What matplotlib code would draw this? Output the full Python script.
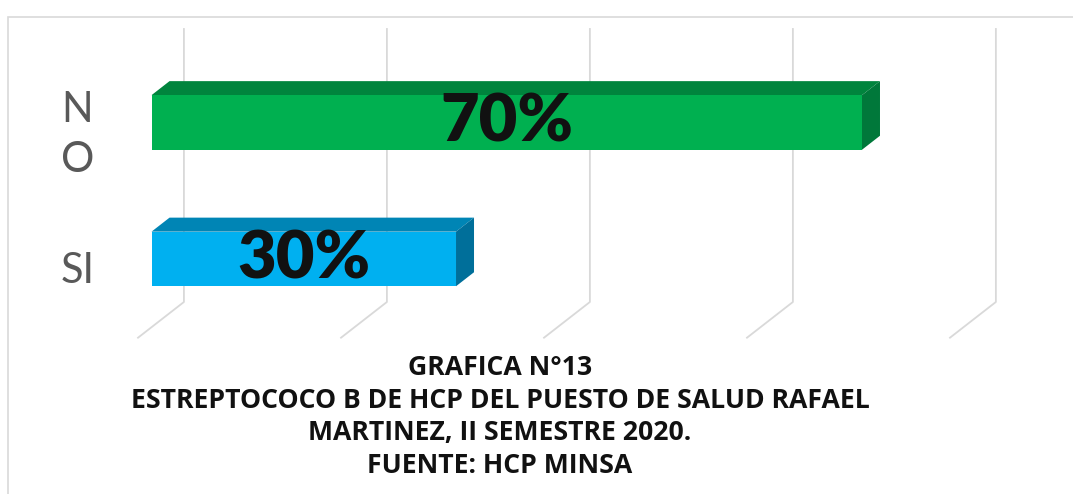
"""
Grafica N°13 - Estreptococo B, barras horizontales con efecto 3D
"""

import matplotlib
matplotlib.use("Agg")
import matplotlib.pyplot as plt
from matplotlib.patches import Polygon, Rectangle


CATEGORIES = ["SI", "NO"]
TICK_LABELS = ["SI", "N\nO"]
VALUES = [30, 70]
VALUE_LABELS = ["30%", "70%"]
GRID_TICKS = [0, 20, 40, 60, 80]

TITLE_LINES = [
    "GRAFICA N°13",
    "ESTREPTOCOCO B DE HCP DEL PUESTO DE SALUD RAFAEL",
    "MARTINEZ, II SEMESTRE 2020.",
    "FUENTE: HCP MINSA",
]

# colores: frente, tapa, lateral
COLORS = {
    "SI": ("#00B0F0", "#0085B5", "#006F9A"),
    "NO": ("#00B050", "#00843D", "#00783A"),
}

# proyeccion oblicua (unidades de datos por unidad de profundidad)
DX = 1.773
DY = 0.1026
BAR_HALF = 0.2
BACK_DEPTH = 1.8
FRONT_DEPTH = -0.75
GRID_COLOR = "#d9d9d9"
FONT = "Lato"


def proj(v, c, d):
    return (v + d * DX, c + d * DY)


fig = plt.figure(figsize=(10.73, 4.94), dpi=100)
ax = fig.add_axes([0, 0, 1, 1])
ax.set_xlim(-14.93, 90.79)
ax.set_ylim(-1.722, 1.897)
ax.axis("off")

# marco del grafico
fig.patches.append(Rectangle((8 / 1073, -0.1), 1.2, 1.1 - 17 / 494,
                             transform=fig.transFigure, fill=False,
                             edgecolor=GRID_COLOR, linewidth=1.2))

# lineas de division: pared posterior + piso
lo, hi = -0.5, len(CATEGORIES) - 0.5
for v in GRID_TICKS:
    p_top = proj(v, hi, BACK_DEPTH)
    p_bot = proj(v, lo, BACK_DEPTH)
    p_front = proj(v, lo, FRONT_DEPTH)
    ax.plot([p_top[0], p_bot[0], p_front[0]], [p_top[1], p_bot[1], p_front[1]],
            color=GRID_COLOR, linewidth=1.3, zorder=1)

# barras 3D
for i, (cat, val) in enumerate(zip(CATEGORIES, VALUES)):
    front, top, side = COLORS[cat]
    y0, y1 = i - BAR_HALF, i + BAR_HALF
    top_pts = [proj(0, y1, 0), proj(val, y1, 0), proj(val, y1, 1), proj(0, y1, 1)]
    side_pts = [proj(val, y0, 0), proj(val, y1, 0), proj(val, y1, 1), proj(val, y0, 1)]
    ax.add_patch(Polygon(top_pts, closed=True, facecolor=top, edgecolor="none", zorder=2))
    ax.add_patch(Polygon(side_pts, closed=True, facecolor=side, edgecolor="none", zorder=2))
    ax.barh(i, val, height=2 * BAR_HALF, left=0, color=front, zorder=3)
    ax.text(val / 2, i, VALUE_LABELS[i], ha="center", va="center",
            fontsize=48, fontweight="heavy", color="#111111", family=FONT, zorder=4)

# etiquetas de categoria
for i, lab in enumerate(TICK_LABELS):
    ax.text(-7.3, i - 0.09, lab, ha="center", va="center", fontsize=30,
            color="#595959", family=FONT, linespacing=1.4, zorder=4)

# titulo
fig.text(0.466, 1 - 417 / 494, "\n".join(TITLE_LINES), ha="center", va="center",
         fontsize=19.2, fontweight="bold", color="#111111", family="Open Sans",
         linespacing=1.32)

fig.savefig("out.png", dpi=100)
